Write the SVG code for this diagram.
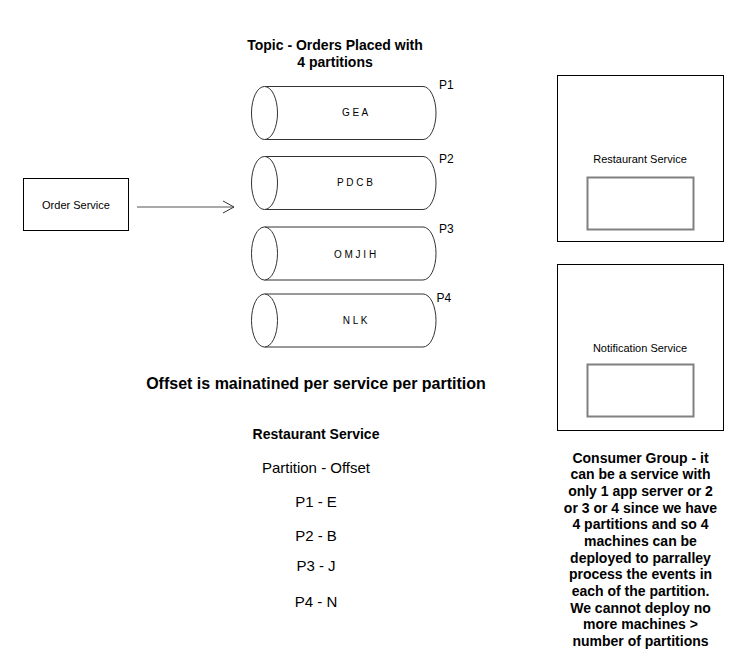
<svg xmlns="http://www.w3.org/2000/svg" width="751" height="658" viewBox="0 0 751 658">
<style>
text{font-family:"Liberation Sans",Arial,sans-serif;fill:#000}
.box{fill:#fff;stroke:#000;stroke-width:1}
.inner{fill:#fff;stroke:#808080;stroke-width:2}
.cyl{fill:#fff;stroke:#333;stroke-width:1}
.lbl{font-size:11px;text-anchor:middle}
.cyltxt{font-size:10px;text-anchor:middle}
.p{font-size:12px}
.bold{font-weight:bold;text-anchor:middle}
.reg{font-size:15px;text-anchor:middle}
</style>
<defs>
<marker id="open" markerWidth="14" markerHeight="14" refX="12" refY="7" orient="auto" markerUnits="userSpaceOnUse">
<path d="M1,1 L12,7 L1,13" fill="none" stroke="#333" stroke-width="1"/>
</marker>
</defs>
<rect width="751" height="658" fill="#fff"/>

<g id="title">
<text class="bold" x="335" y="50" font-size="14">Topic - Orders Placed with</text>
<text class="bold" x="335" y="67" font-size="14">4 partitions</text>
</g>

<g id="order-service">
<rect class="box" x="23.5" y="178.5" width="105" height="52"/>
<text class="lbl" x="76" y="208.5">Order Service</text>
</g>

<g id="connectors">
<line x1="137" y1="207" x2="234" y2="207" stroke="#555" stroke-width="1" marker-end="url(#open)"/>
</g>

<g id="partition-p1">
<path class="cyl" d="M264.5,86.5 L423,86.5 A13,26.5 0 0 1 423,139.5 L264.5,139.5"/>
<ellipse class="cyl" cx="264.5" cy="113" rx="13" ry="26.5"/>
<text class="cyltxt" x="355" y="116">G E A</text>
<text class="p" x="439" y="88.5">P1</text>
</g>

<g id="partition-p2">
<path class="cyl" d="M264.5,156.5 L423,156.5 A13,26.5 0 0 1 423,209.5 L264.5,209.5"/>
<ellipse class="cyl" cx="264.5" cy="183" rx="13" ry="26.5"/>
<text class="cyltxt" x="355" y="185.5">P D C B</text>
<text class="p" x="439" y="162.5">P2</text>
</g>

<g id="partition-p3">
<path class="cyl" d="M264.5,227 L423,227 A13,26.5 0 0 1 423,280 L264.5,280"/>
<ellipse class="cyl" cx="264.5" cy="253.5" rx="13" ry="26.5"/>
<text class="cyltxt" x="355" y="258">O M J I H</text>
<text class="p" x="439" y="233">P3</text>
</g>

<g id="partition-p4">
<path class="cyl" d="M264.5,294 L423,294 A13,26.5 0 0 1 423,347 L264.5,347"/>
<ellipse class="cyl" cx="264.5" cy="320.5" rx="13" ry="26.5"/>
<text class="cyltxt" x="355" y="324">N L K</text>
<text class="p" x="436.5" y="302">P4</text>
</g>

<g id="restaurant-service">
<rect class="box" x="557.5" y="75.5" width="166" height="166"/>
<text class="lbl" x="640" y="162.5">Restaurant Service</text>
<rect class="inner" x="587.5" y="177.5" width="106" height="52"/>
</g>

<g id="notification-service">
<rect class="box" x="557.5" y="264.5" width="166" height="166"/>
<text class="lbl" x="640" y="351.5">Notification Service</text>
<rect class="inner" x="587.5" y="364.5" width="106" height="52"/>
</g>

<g id="offset-note">
<text class="bold" x="316" y="389" font-size="16">Offset is mainatined per service per partition</text>
<text class="bold" x="316" y="439" font-size="14">Restaurant Service</text>
<text class="reg" x="316" y="473">Partition - Offset</text>
<text class="reg" x="316" y="506.5">P1 - E</text>
<text class="reg" x="316" y="540.5">P2 - B</text>
<text class="reg" x="316" y="570.5">P3 - J</text>
<text class="reg" x="316" y="606.5">P4 - N</text>
</g>

<g id="consumer-group-note">
<text class="bold" x="640.5" y="462.5" font-size="14">Consumer Group - it</text>
<text class="bold" x="640.5" y="479.2" font-size="14">can be a service with</text>
<text class="bold" x="640.5" y="495.8" font-size="14">only 1 app server or 2</text>
<text class="bold" x="640.5" y="512.5" font-size="14">or 3 or 4 since we have</text>
<text class="bold" x="640.5" y="529.2" font-size="14">4 partitions and so 4</text>
<text class="bold" x="640.5" y="545.8" font-size="14">machines can be</text>
<text class="bold" x="640.5" y="562.5" font-size="14">deployed to parralley</text>
<text class="bold" x="640.5" y="579.2" font-size="14">process the events in</text>
<text class="bold" x="640.5" y="595.8" font-size="14">each of the partition.</text>
<text class="bold" x="640.5" y="612.5" font-size="14">We cannot deploy no</text>
<text class="bold" x="640.5" y="629.2" font-size="14">more machines &gt;</text>
<text class="bold" x="640.5" y="645.8" font-size="14">number of partitions</text>
</g>
</svg>
